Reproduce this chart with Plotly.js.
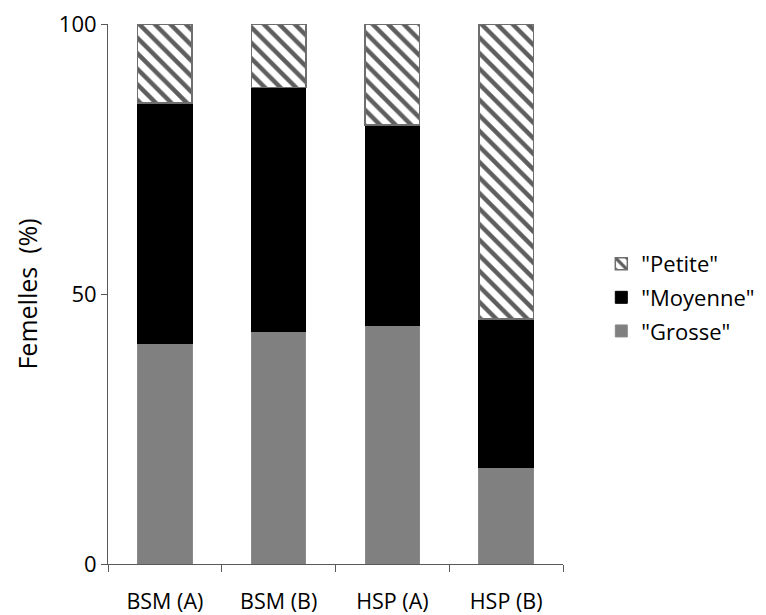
<!DOCTYPE html>
<html>
<head>
<meta charset="utf-8">
<script src="https://cdn.plot.ly/plotly-3.0.1.min.js"></script>
<style>html,body{margin:0;padding:0;background:#fff;}#chart{width:766px;height:615px;}</style>
</head>
<body>
<div id="chart"></div>
<script>
const categories = ["BSM (A)", "BSM (B)", "HSP (A)", "HSP (B)"];
const grosse = [40.9, 43.0, 44.1, 17.9];
const moyenne = [44.5, 45.2, 37.2, 27.5];
const petite = [14.6, 11.8, 18.7, 54.6];
const yTicks = [0, 50, 100];

const font = "'Open Sans', 'Noto Sans', sans-serif";

const traces = [
  {
    type: "bar", name: '"Grosse"', x: categories, y: grosse, legendgroup: "g", legendrank: 3,
    marker: {color: "#808080", line: {color: "#8a8a8a", width: 1}}
  },
  {
    type: "bar", name: '"Moyenne"', x: categories, y: moyenne, legendgroup: "m", legendrank: 2,
    marker: {color: "#000000", line: {color: "#000000", width: 1}}
  },
  {
    type: "bar", name: '"Petite"', x: categories, y: petite, legendgroup: "p", legendrank: 1,
    marker: {
      color: "#ffffff",
      line: {color: "#6e6e6e", width: 1.5},
      pattern: {shape: "\\", fgcolor: "#5e5e5e", bgcolor: "#ffffff", size: 11, solidity: 0.4}
    }
  }
];

const layout = {
  width: 766, height: 615,
  margin: {l: 108, r: 203, t: 24, b: 51},
  paper_bgcolor: "#ffffff", plot_bgcolor: "#ffffff",
  barmode: "stack",
  bargap: 0.52,
  font: {family: font, color: "#000000", size: 21},
  showlegend: true,
  legend: {
    xref: "container", yref: "container",
    x: 0.785, y: 0.605, xanchor: "left", yanchor: "top",
    traceorder: "grouped",
    tracegroupgap: 2,
    font: {family: font, size: 22, color: "#000"},
    bgcolor: "rgba(0,0,0,0)"
  },
  xaxis: {
    type: "category",
    showline: true, linecolor: "#595959", linewidth: 1,
    ticks: "outside", tickson: "boundaries", ticklen: 7, tickcolor: "#595959",
    showgrid: false, zeroline: false,
    tickfont: {family: font, size: 21.5, color: "#000"},
    ticklabelstandoff: 18
  },
  yaxis: {
    range: [0, 100],
    tickvals: yTicks,
    showline: true, linecolor: "#595959", linewidth: 1,
    ticks: "outside", ticklen: 6, tickcolor: "#595959",
    showgrid: false, zeroline: false,
    tickfont: {family: font, size: 22, color: "#000"},
    ticklabelstandoff: 0,
    title: {text: "Femelles  (%)", font: {family: font, size: 25, color: "#000"}, standoff: 14}
  }
};

Plotly.newPlot("chart", traces, layout, {displayModeBar: false, staticPlot: true});
</script>
</body>
</html>
